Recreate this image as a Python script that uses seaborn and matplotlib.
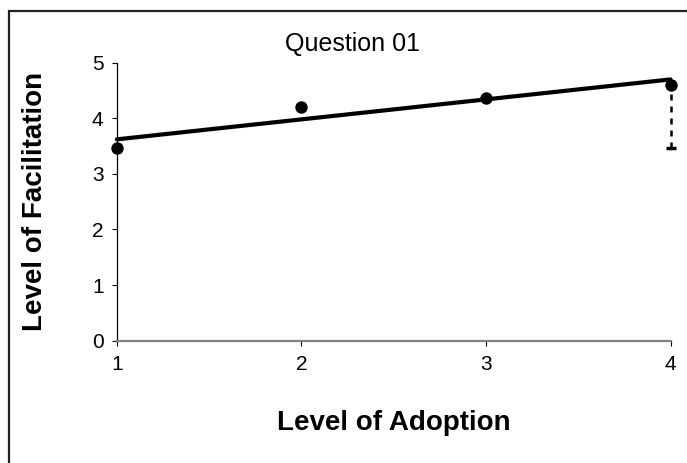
import matplotlib
matplotlib.use('Agg')
import matplotlib.pyplot as plt
import seaborn as sns
import pandas as pd
from matplotlib.patches import Rectangle

# 数据
adoption = [1, 2, 3, 4]
facilitation = [3.46, 4.2, 4.37, 4.6]
err_x = [4]
err_y = [4.6]
err_low = [1.14]
x_ticks = [1, 2, 3, 4]
y_ticks = [0, 1, 2, 3, 4, 5]

df = pd.DataFrame({'adoption': adoption, 'facilitation': facilitation})

sns.set_style('white')
plt.rcParams['font.family'] = ['Liberation Sans', 'DejaVu Sans']
plt.rcParams['text.color'] = 'black'
plt.rcParams['axes.labelcolor'] = 'black'
plt.rcParams['xtick.color'] = 'black'
plt.rcParams['ytick.color'] = 'black'

fig = plt.figure(figsize=(6.87, 4.63), dpi=100)
ax = fig.add_axes([0.170, 0.264, 0.806, 0.601])

# 散点 + 回归线
sns.regplot(data=df, x='adoption', y='facilitation', ci=None, ax=ax,
            scatter_kws={'s': 80, 'color': 'black', 'alpha': 1, 'linewidths': 0,
                         'zorder': 3, 'clip_on': False},
            line_kws={'color': 'black', 'lw': 3, 'clip_on': False})

# 虚线误差条（只有下半部分）
eb = ax.errorbar(err_x, err_y, yerr=[err_low, [0]], fmt='none', ecolor='black',
                 elinewidth=1.8, capsize=3.5, capthick=2.5, clip_on=False)
eb[2][0].set_linestyle((0, (2.4, 2.4)))
for cap in eb[1]:
    cap.set_clip_on(False)
eb[1][1].set_visible(False)

ax.set_xlim(1, 4)
ax.set_ylim(0, 5)
ax.set_xticks(x_ticks)
ax.set_yticks(y_ticks)
ax.tick_params(axis='both', labelsize=15, length=3.5, width=0.8,
               direction='out', bottom=True, left=True)
ax.tick_params(axis='x', pad=7)
ax.tick_params(axis='y', pad=6)

for s in ['top', 'right']:
    ax.spines[s].set_visible(False)
ax.spines['left'].set_color('black')
ax.spines['left'].set_linewidth(0.9)
ax.spines['bottom'].set_color('#808080')
ax.spines['bottom'].set_linewidth(1.6)

ax.set_xlabel('Level of Adoption', fontsize=20, fontweight='bold')
ax.set_ylabel('Level of Facilitation', fontsize=20, fontweight='bold')
ax.xaxis.set_label_coords(0.5, -0.25)
ax.yaxis.set_label_coords(-0.125, 0.5)
ax.set_title('Question 01', fontsize=18, pad=8, x=0.426)

# 外框
fig.patches.append(Rectangle((9 / 687, -0.1), 1.2, 1 - 11 / 463 + 0.1,
                             transform=fig.transFigure, fill=False,
                             edgecolor='#222222', linewidth=1.6))

fig.savefig('out.png', dpi=100)
